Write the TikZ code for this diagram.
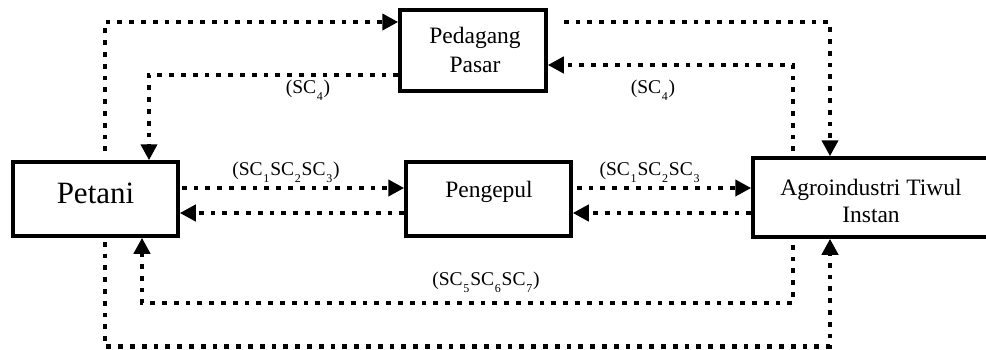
\documentclass[tikz,border=0pt]{standalone}
\usepackage{fontspec}
\setmainfont{Liberation Serif}
\usetikzlibrary{arrows.meta}
\newcommand{\sbx}[1]{\kern0.8pt\raisebox{-7pt}{\fontsize{12pt}{12pt}\selectfont #1}\kern0.8pt}
\begin{document}
\begin{tikzpicture}[x=1pt,y=-1pt,
  box/.style={draw,line width=3.5pt,fill=white,inner sep=0pt},
  boxtext/.style={inner sep=0pt,font=\fontsize{23.5pt}{28pt}\selectfont,align=center},
  lbl/.style={inner sep=0pt,anchor=base,font=\fontsize{19.5pt}{21pt}\selectfont},
  flow/.style={line width=4.8pt,dash pattern=on 4.8pt off 7pt,-{Triangle[length=16pt,width=16pt]}}]
\useasboundingbox (0,0) rectangle (986,349);
% boxes
\node[box,minimum width=165pt,minimum height=74pt] (pet) at (95.5,199) {};
\node[box,minimum width=146pt,minimum height=81pt] (ped) at (473,50.5) {};
\node[box,minimum width=165pt,minimum height=74pt] (pen) at (488.5,199) {};
\node[box,minimum width=236pt,minimum height=79pt] (agr) at (871,197.5) {};
% box texts
\node[inner sep=0pt,anchor=base,font=\fontsize{31pt}{34pt}\selectfont] (pett) at (95.5,203) {Petani};
\node[boxtext,anchor=base,font=\fontsize{23.5pt}{29pt}\selectfont] (pedt) at (475,72) {Pedagang\\Pasar};
\node[boxtext,anchor=base] (pent) at (489,197) {Pengepul};
\node[boxtext,anchor=base,font=\fontsize{23.5pt}{27pt}\selectfont] (agrt) at (871,222) {Agroindustri Tiwul\\Instan};
% column / row helpers
\coordinate (cA) at (105,0);
\coordinate (cB) at (149,0);
\coordinate (cC) at (142,0);
\coordinate (cD) at (793,0);
\coordinate (cE) at (830,0);
\coordinate (r22) at (0,22);
\coordinate (r65) at (0,65);
\coordinate (r75) at (0,75);
\coordinate (r188) at (0,188);
\coordinate (r213) at (0,213);
\coordinate (r303) at (0,303);
\coordinate (r347) at (0,346.5);
% connectors
\draw[flow,shorten <=9pt] (pet.north -| cA) |- (ped.west |- r22);
\draw[flow] (ped.west |- r75) -| (pet.north -| cB);
\draw[flow,shorten <=16pt] (ped.east |- r22) -| (agr.north -| cE);
\draw[flow,shorten <=5pt] (agr.north -| cD) |- (ped.east |- r65);
\draw[flow,shorten <=2pt] (pet.east |- r188) -- (pen.west |- r188);
\draw[flow] (pen.west |- r213) -- (pet.east |- r213);
\draw[flow,shorten <=4pt] (pen.east |- r188) -- (agr.west |- r188);
\draw[flow] (agr.west |- r213) -- (pen.east |- r213);
\draw[flow,shorten <=6pt] (agr.south -| cD) |- (r303 -| cC) -- (pet.south -| cC);
\draw[flow,shorten <=4pt] (pet.south -| cA) |- (r347 -| cE) -- (agr.south -| cE);
% labels
\node[lbl] (l1) at (308,93) {(SC\sbx{4})};
\node[lbl] (l2) at (653,93) {(SC\sbx{4})};
\node[lbl] (l3) at (286,175) {(SC\sbx{1}SC\sbx{2}SC\sbx{3})};
\node[lbl] (l4) at (650,175) {(SC\sbx{1}SC\sbx{2}SC\sbx{3}};
\node[lbl] (l5) at (486,285) {(SC\sbx{5}SC\sbx{6}SC\sbx{7})};
\end{tikzpicture}
\end{document}
